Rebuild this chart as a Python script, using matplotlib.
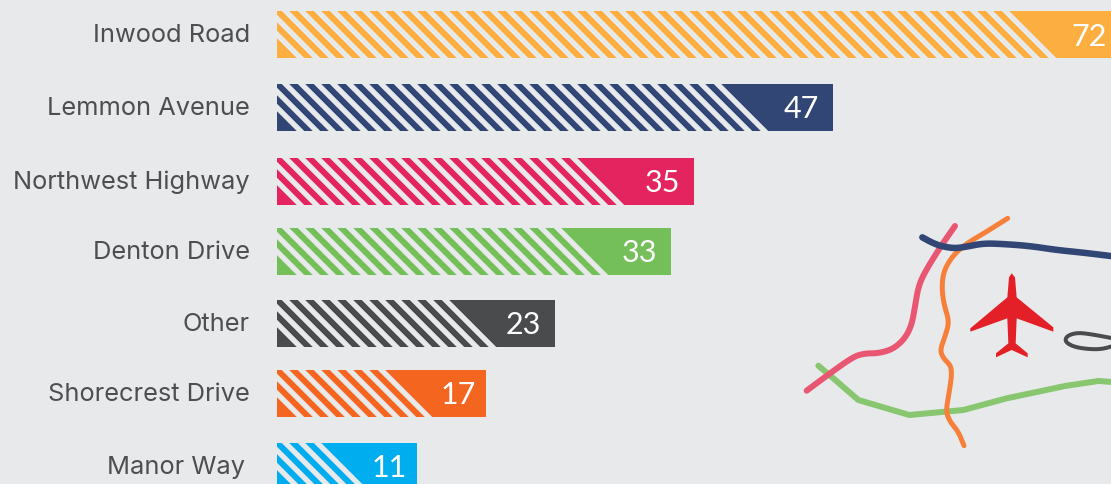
import numpy as np
import matplotlib
matplotlib.use('Agg')
import matplotlib.pyplot as plt

labels = ['Inwood Road', 'Lemmon Avenue', 'Northwest Highway', 'Denton Drive',
          'Other', 'Shorecrest Drive', 'Manor Way']
values = [72, 47, 35, 33, 23, 17, 11]
colors = ['#fdae40', '#324675', '#e4245e', '#74bf5a', '#4a4b4d', '#f4651f', '#00aeef']

# layout, in pixels of the 1111x485 picture
bar_tops = [11, 84, 158, 228, 300, 370, 443]
bar_h = 47
last_stripe = [45, 27, 18, 17, 10, 6, 2]
label_right = [250, 250, 250, 250, 250, 250, 245]
num_offset = [33, 32, 32, 32, 32, 28, 28]
bg = '#e8e9eb'
zero_px = 289.6
px_per_unit = 11.56
bar_left_px = 277


def px2x(px):
    return (np.asarray(px, dtype=float) - zero_px) / px_per_unit


def smooth(pts, n=3):
    # corner cutting so the roads do not look like polylines
    pts = np.asarray(pts, dtype=float)
    for i in range(n):
        q = 0.75 * pts[:-1] + 0.25 * pts[1:]
        r = 0.25 * pts[:-1] + 0.75 * pts[1:]
        new = np.empty((2 * len(q), 2))
        new[0::2] = q
        new[1::2] = r
        pts = np.vstack([pts[0], new, pts[-1]])
    return pts


def zoomed(pts):
    pts = np.asarray(pts, dtype=float)
    return pts / 3 + [790, 200]


navy_road = [(397, 112), (430, 130), (460, 140), (495, 145), (530, 140), (580, 130), (640, 132),
             (720, 138), (800, 150), (880, 158), (970, 169)]
pink_road = [(495, 78), (455, 135), (405, 215), (385, 260), (375, 320), (365, 375), (345, 415),
             (310, 447), (265, 460), (225, 460), (190, 470), (120, 520), (50, 572)]
orange_road = [(653, 55), (590, 95), (530, 130), (490, 165), (462, 210), (455, 260), (462, 315),
               (478, 365), (465, 410), (450, 450), (460, 475), (483, 497), (485, 530), (475, 590),
               (468, 635), (480, 665), (505, 695), (522, 737)]
green_road = [(85, 497), (130, 535), (205, 600), (358, 645), (520, 630), (650, 595), (825, 558),
              (925, 543), (970, 546)]
grey_loop = [(975, 416), (900, 402), (860, 398), (830, 408), (825, 425), (850, 440), (890, 447),
             (935, 448), (975, 436)]
plane = [(665, 220), (657, 232), (652, 292), (541, 385), (541, 395), (652, 355), (655, 430),
         (618, 460), (618, 472), (665, 450), (713, 472), (713, 460), (677, 430), (680, 355),
         (790, 395), (790, 382), (680, 292), (675, 232)]

fig = plt.figure(figsize=(11.11, 4.85), dpi=100, facecolor=bg)
ax = fig.add_axes([0, 0, 1, 1])
ax.set_facecolor(bg)
ax.set_xlim(px2x(0), px2x(1111))
ax.set_ylim(484, -1)
ax.axis('off')

left = px2x(bar_left_px)
for i in range(len(values)):
    top = bar_tops[i]
    mid = top + bar_h / 2
    bar = ax.barh(mid, values[i] - left, height=bar_h, left=left, color=colors[i], lw=0, zorder=2)[0]
    for k in range(-2, last_stripe[i] + 1):
        xt = 285.5 + 16 * k
        sx = [xt - 3.75, xt + 3.75, xt + 3.75 + bar_h, xt - 3.75 + bar_h]
        sy = [top, top, top + bar_h, top + bar_h]
        st = ax.fill(px2x(sx), sy, color=bg, lw=0, zorder=3)[0]
        st.set_clip_path(bar)
    ax.text(px2x(label_right[i]), mid, labels[i], ha='right', va='center', color='#4d4e50',
            fontsize=18.3, family='Inter')
    ax.text(values[i] - num_offset[i] / px_per_unit, mid + 1, str(values[i]), ha='center', va='center',
            color='white', fontsize=22, family='Lato', zorder=4)

# map decoration
for pts, col, w, sm in [(green_road, '#88c670', 6, False), (orange_road, '#f6803a', 5, True),
                        (pink_road, '#e85672', 6, True), (navy_road, '#324675', 6.5, True),
                        (grey_loop, '#4a4b4d', 4, True)]:
    p = zoomed(pts)
    if sm:
        p = smooth(p)
    ax.plot(px2x(p[:, 0]), p[:, 1], color=col, lw=w * 0.72, solid_capstyle='round',
            solid_joinstyle='round', zorder=2)
p = zoomed(plane)
ax.fill(px2x(p[:, 0]), p[:, 1], color='#e32027', lw=0, zorder=2)

fig.savefig('out.png', dpi=100, facecolor=bg)
